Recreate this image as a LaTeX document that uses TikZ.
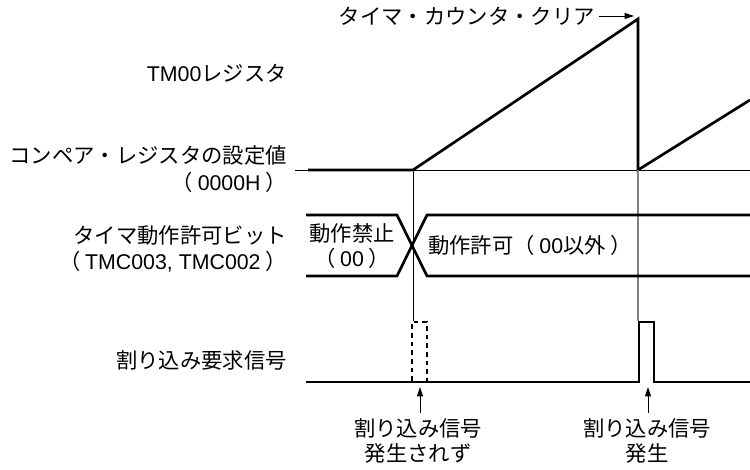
\documentclass[tikz,border=0pt]{standalone}
\usepackage{fontspec}
\setmainfont{Noto Sans CJK JP}
\newfontfamily\lat{Liberation Sans}
\usetikzlibrary{arrows.meta}
\tikzset{
  lbl/.style={font=\fontsize{16}{18}\selectfont, inner sep=0pt},
  lblr/.style={lbl, anchor=east, align=right},
  sig/.style={line width=2pt, line join=miter},
  thinln/.style={line width=0.7pt},
  grayln/.style={line width=0.8pt, draw=black!50},
  dsig/.style={line width=1.7pt, dash pattern=on 3.5pt off 3pt},
  upar/.style={line width=0.6pt, -{Triangle[length=7pt,width=4.5pt]}},
}
\begin{document}
\begin{tikzpicture}[x=0.75pt,y=-0.75pt]
\useasboundingbox (0,0) rectangle (750,470);
% left labels
\node[lblr] (ltm) at (287,73) {{\lat TM00}レジスタ};
\node[lblr] (lcmp) at (287,155) {コンペア・レジスタの設定値};
\node[lblr] (lcmp2) at (287,182) {（ {\lat 0000H} ）};
\node[lblr] (len) at (287,235) {タイマ動作許可ビット};
\node[lblr] (len2) at (287,262) {（ {\lat TMC003, TMC002} ）};
\node[lblr] (lint) at (287,360) {割り込み要求信号};
% coordinates
\coordinate (b0) at (295,170);
\coordinate (b1) at (750,170);
\coordinate (s0) at (308,170);
\coordinate (s1) at (413,170);
\coordinate (pk) at (638,19);
\coordinate (s2) at (638,170);
\coordinate (s3) at (750,100);
% compare baseline
\draw[thinln] (b0) -- (b1);
% counter
\draw[sig] (s0) -- (s1) -- (pk) -- (s2) -- (s3);
% clear label
\node[lbl, anchor=east] (clr) at (595,16) {タイマ・カウンタ・クリア};
\coordinate (clrtip) at (634,16);
\draw[line width=0.6pt, -{Triangle[length=7pt,width=4.5pt]}] (clr.east) ++(4,0) -- (clrtip);
% vertical guide lines
\coordinate (v1a) at (413,170);
\coordinate (v1b) at (413,321);
\coordinate (v2a) at (638,170);
\coordinate (v2b) at (638,321);
\draw[thinln] (v1a) -- (v1b);
\draw[grayln] (v2a) -- (v2b);
% enable bus
\coordinate (e0t) at (306,215);
\coordinate (e0b) at (306,276);
\coordinate (e1t) at (397,215);
\coordinate (e1b) at (397,276);
\coordinate (e2t) at (427,215);
\coordinate (e2b) at (427,276);
\coordinate (e3t) at (750,215);
\coordinate (e3b) at (750,276);
\draw[sig] (e0t) -- (e1t) -- (e2b) -- (e3b);
\draw[sig] (e0b) -- (e1b) -- (e2t) -- (e3t);
\node[lbl] (dis1) at (352,233) {動作禁止};
\node[lbl] (dis2) at (352,258) {（ {\lat 00} ）};
\node[lbl] (ena) at (530,245) {動作許可（ {\lat 00}以外 ）};
% interrupt signal
\coordinate (i0) at (306,382);
\coordinate (i1) at (639,382);
\coordinate (i2) at (639,322);
\coordinate (i3) at (654,322);
\coordinate (i4) at (654,382);
\coordinate (i5) at (750,382);
\draw[sig] (i0) -- (i1) -- (i2) -- (i3) -- (i4) -- (i5);
\coordinate (d0) at (412,381);
\coordinate (d1) at (412,322);
\coordinate (d2) at (427,322);
\coordinate (d3) at (427,381);
\draw[dsig] (d0) -- (d1) -- (d2) -- (d3);
% arrows and bottom labels
\coordinate (a1t) at (420,413);
\coordinate (a1h) at (420,387);
\coordinate (a2t) at (648,413);
\coordinate (a2h) at (648,387);
\draw[upar] (a1t) -- (a1h);
\draw[upar] (a2t) -- (a2h);
\node[lbl] (n1a) at (418,428) {割り込み信号};
\node[lbl] (n1b) at (418,453) {発生されず};
\node[lbl] (n2a) at (647,428) {割り込み信号};
\node[lbl] (n2b) at (647,453) {発生};
\end{tikzpicture}
\end{document}
